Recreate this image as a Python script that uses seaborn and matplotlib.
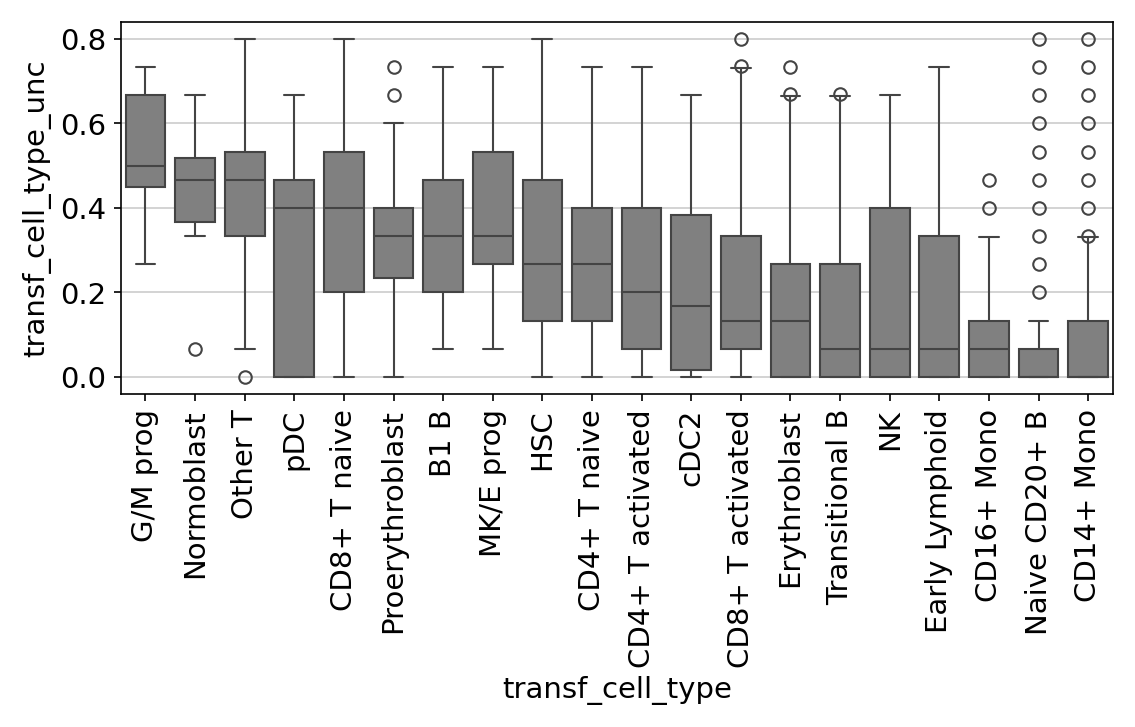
import numpy as np
import pandas as pd
import matplotlib.pyplot as plt
import seaborn as sns

cell_types = ['G/M prog', 'Normoblast', 'Other T', 'pDC', 'CD8+ T naive',
              'Proerythroblast', 'B1 B', 'MK/E prog', 'HSC', 'CD4+ T naive',
              'CD4+ T activated', 'cDC2', 'CD8+ T activated', 'Erythroblast',
              'Transitional B', 'NK', 'Early Lymphoid', 'CD16+ Mono',
              'Naive CD20+ B', 'CD14+ Mono']
# box stats
whisk_lo = [0.267, 0.333, 0.067, 0, 0, 0, 0.067, 0.067, 0, 0,
            0, 0, 0, 0, 0, 0, 0, 0, 0, 0]
q1 = [0.45, 0.367, 0.333, 0, 0.2, 0.233, 0.2, 0.267, 0.133, 0.133,
      0.067, 0.017, 0.067, 0, 0, 0, 0, 0, 0, 0]
median = [0.5, 0.467, 0.467, 0.4, 0.4, 0.333, 0.333, 0.333, 0.267, 0.267,
          0.2, 0.167, 0.133, 0.133, 0.067, 0.067, 0.067, 0.067, 0, 0]
q3 = [0.667, 0.517, 0.533, 0.467, 0.533, 0.4, 0.467, 0.533, 0.467, 0.4,
      0.4, 0.383, 0.333, 0.267, 0.267, 0.4, 0.333, 0.133, 0.067, 0.133]
whisk_hi = [0.733, 0.667, 0.8, 0.667, 0.8, 0.6, 0.733, 0.733, 0.8, 0.733,
            0.733, 0.667, 0.73, 0.664, 0.664, 0.667, 0.733, 0.33, 0.133, 0.33]
outliers = [[], [0.067], [0.0], [], [], [0.667, 0.733], [], [], [], [],
            [], [], [0.736, 0.8], [0.67, 0.733], [0.67], [], [], [0.4, 0.467],
            [0.2, 0.267, 0.333, 0.4, 0.467, 0.533, 0.6, 0.667, 0.733, 0.8],
            [0.334, 0.4, 0.467, 0.533, 0.6, 0.667, 0.733, 0.8]]

# rebuild samples that give these quartiles
rows = []
for i, ct in enumerate(cell_types):
    vals = ([whisk_lo[i]] * 10 + [q1[i]] * 20 + [median[i]] * 20 +
            [q3[i]] * 20 + [whisk_hi[i]] * 10 + outliers[i])
    rows += [(ct, v) for v in vals]
df = pd.DataFrame(rows, columns=['transf_cell_type', 'transf_cell_type_unc'])

sns.set_style('ticks', {'axes.edgecolor': 'black', 'text.color': 'black',
                        'axes.labelcolor': 'black', 'xtick.color': 'black',
                        'ytick.color': 'black'})
plt.rcParams['font.family'] = ['DejaVu Sans']
fig, ax = plt.subplots(figsize=(7.57, 4.85), dpi=150)
ax.yaxis.grid(True, color='#cccccc', lw=0.8)
ax.set_axisbelow(True)
sns.boxplot(data=df, x='transf_cell_type', y='transf_cell_type_unc',
            order=cell_types, color='gray', linecolor='#444444',
            flierprops=dict(marker='o', markersize=6, markerfacecolor='none',
                            markeredgecolor='#444444'), ax=ax)
ax.set_yticks([0, 0.2, 0.4, 0.6, 0.8])
ax.set_ylim(-0.04, 0.84)
ax.tick_params(axis='x', labelrotation=90, labelsize=14)
ax.tick_params(axis='y', labelsize=14)
ax.set_xlabel('transf_cell_type', fontsize=14)
ax.set_ylabel('transf_cell_type_unc', fontsize=14)
plt.tight_layout()
plt.savefig('out.png', dpi=150)
